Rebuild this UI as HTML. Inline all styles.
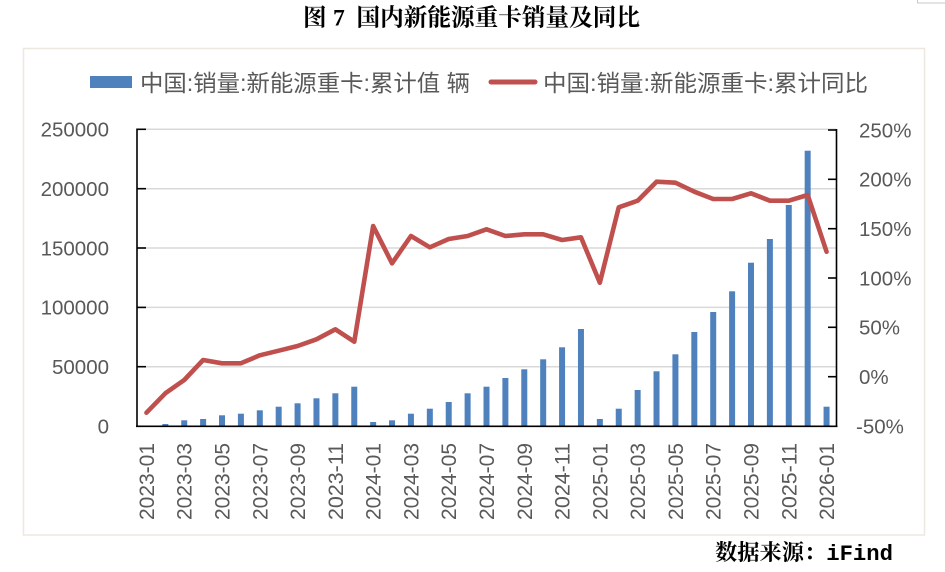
<!DOCTYPE html>
<html><head><meta charset="utf-8"><style>
html,body{margin:0;padding:0;background:#fff;}
svg{display:block;}
</style></head><body>
<svg width="945" height="572" viewBox="0 0 945 572" xmlns="http://www.w3.org/2000/svg">
<rect x="0" y="0" width="945" height="572" fill="#fff"/>
<rect x="917.5" y="-2" width="40" height="5" fill="none" stroke="#c8c8c8" stroke-width="1"/>
<g font-family="'Liberation Serif','Noto Serif CJK SC',serif" font-weight="bold" font-size="23.6" fill="#000">
<text x="303" y="25.5">图</text>
<text x="333" y="25.5">7</text>
<text x="356.5" y="25.5" textLength="283.5" lengthAdjust="spacingAndGlyphs">国内新能源重卡销量及同比</text>
</g>
<rect x="23.5" y="48.5" width="901" height="486.5" fill="none" stroke="#ECE8DF" stroke-width="1.5"/>
<!-- legend -->
<rect x="90" y="76" width="42" height="12" fill="#4F81BD"/>
<text x="140" y="91" textLength="330" lengthAdjust="spacingAndGlyphs" font-family="'Liberation Sans','Noto Sans CJK SC',sans-serif" font-size="23" fill="#595959">中国:销量:新能源重卡:累计值 辆</text>
<line x1="491" y1="82" x2="535" y2="82" stroke="#C0504D" stroke-width="5" stroke-linecap="round"/>
<text x="543" y="91" textLength="325" lengthAdjust="spacingAndGlyphs" font-family="'Liberation Sans','Noto Sans CJK SC',sans-serif" font-size="23" fill="#595959">中国:销量:新能源重卡:累计同比</text>
<!-- gridlines -->
<g stroke="#D9D9D9" stroke-width="1.5">
<line x1="137" y1="129.3" x2="836" y2="129.3"/>
<line x1="137" y1="188.7" x2="836" y2="188.7"/>
<line x1="137" y1="248" x2="836" y2="248"/>
<line x1="137" y1="307.4" x2="836" y2="307.4"/>
<line x1="137" y1="366.7" x2="836" y2="366.7"/>
</g>
<!-- left labels -->
<g font-family="'Liberation Sans',sans-serif" font-size="20.5" fill="#595959" text-anchor="end">
<text x="109" y="136.6">250000</text>
<text x="109" y="196">200000</text>
<text x="109" y="255.3">150000</text>
<text x="109" y="314.7">100000</text>
<text x="109" y="374">50000</text>
<text x="109" y="433.3">0</text>
</g>
<!-- right labels -->
<g font-family="'Liberation Sans',sans-serif" font-size="20.5" fill="#595959">
<text x="859" y="137.3">250%</text>
<text x="859" y="186.6">200%</text>
<text x="859" y="236">150%</text>
<text x="859" y="285.3">100%</text>
<text x="859" y="334.6">50%</text>
<text x="859" y="384">0%</text>
<text x="856" y="433.3">-50%</text>
</g>
<!-- bars -->
<g fill="#4F81BD">
<rect x="162.34" y="424" width="6" height="2"/>
<rect x="181.23" y="420.3" width="6" height="5.7"/>
<rect x="200.12" y="419" width="6" height="7"/>
<rect x="219.01" y="415.3" width="6" height="10.7"/>
<rect x="237.91" y="413.7" width="6" height="12.3"/>
<rect x="256.8" y="410.3" width="6" height="15.7"/>
<rect x="275.69" y="406.7" width="6" height="19.3"/>
<rect x="294.58" y="403.3" width="6" height="22.7"/>
<rect x="313.47" y="398.3" width="6" height="27.7"/>
<rect x="332.37" y="393.3" width="6" height="32.7"/>
<rect x="351.26" y="386.7" width="6" height="39.3"/>
<rect x="370.15" y="422" width="6" height="4"/>
<rect x="389.04" y="420.3" width="6" height="5.7"/>
<rect x="407.93" y="413.7" width="6" height="12.3"/>
<rect x="426.83" y="408.7" width="6" height="17.3"/>
<rect x="445.72" y="402" width="6" height="24"/>
<rect x="464.61" y="393.3" width="6" height="32.7"/>
<rect x="483.5" y="386.7" width="6" height="39.3"/>
<rect x="502.39" y="378" width="6" height="48"/>
<rect x="521.29" y="369.3" width="6" height="56.7"/>
<rect x="540.18" y="359.3" width="6" height="66.7"/>
<rect x="559.07" y="347.3" width="6" height="78.7"/>
<rect x="577.96" y="329" width="6" height="97"/>
<rect x="596.85" y="419" width="6" height="7"/>
<rect x="615.75" y="408.7" width="6" height="17.3"/>
<rect x="634.64" y="390" width="6" height="36"/>
<rect x="653.53" y="371.3" width="6" height="54.7"/>
<rect x="672.42" y="354.3" width="6" height="71.7"/>
<rect x="691.31" y="332" width="6" height="94"/>
<rect x="710.21" y="312" width="6" height="114"/>
<rect x="729.1" y="291.3" width="6" height="134.7"/>
<rect x="747.99" y="262.7" width="6" height="163.3"/>
<rect x="766.88" y="239" width="6" height="187"/>
<rect x="785.77" y="205" width="6" height="221"/>
<rect x="804.67" y="150.7" width="6" height="275.3"/>
<rect x="823.56" y="406.7" width="6" height="19.3"/>
</g>
<!-- axes -->
<g stroke="#000" stroke-width="1.6" fill="none">
<line x1="137" y1="128.5" x2="137" y2="427"/>
<line x1="836.5" y1="129" x2="836.5" y2="427"/>
<line x1="136" y1="426.3" x2="837.5" y2="426.3"/>
<line x1="137" y1="129.3" x2="146" y2="129.3"/>
<line x1="137" y1="188.7" x2="146" y2="188.7"/>
<line x1="137" y1="248" x2="146" y2="248"/>
<line x1="137" y1="307.4" x2="146" y2="307.4"/>
<line x1="137" y1="366.7" x2="146" y2="366.7"/>
<line x1="828" y1="130" x2="836.5" y2="130"/>
<line x1="828" y1="179.3" x2="836.5" y2="179.3"/>
<line x1="828" y1="228.7" x2="836.5" y2="228.7"/>
<line x1="828" y1="278" x2="836.5" y2="278"/>
<line x1="828" y1="327.3" x2="836.5" y2="327.3"/>
<line x1="828" y1="376.7" x2="836.5" y2="376.7"/>
</g>
<!-- line -->
<polyline fill="none" stroke="#C0504D" stroke-width="4.6" stroke-linejoin="round" stroke-linecap="round" points="146.45,412.7 165.34,393.3 184.23,380 203.12,360 222.01,363.3 240.91,363.3 259.8,355.3 278.69,350.7 297.58,346 316.47,339.3 335.37,329.3 354.26,341.7 373.15,226 392.04,263.3 410.93,236 429.83,247.3 448.72,239 467.61,236 486.5,229.3 505.39,236 524.29,234.3 543.18,234.3 562.07,240 580.96,237.3 599.85,282.7 618.75,207.3 637.64,200.7 656.53,181.7 675.42,182.7 694.31,191.7 713.21,199 732.1,199 750.99,193.3 769.88,200.7 788.77,200.7 807.67,195 826.56,251.7"/>
<!-- x labels -->
<g font-family="'Liberation Sans',sans-serif" font-size="21" fill="#595959" text-anchor="end">
<text transform="translate(153.9,443) rotate(-90)" textLength="77" lengthAdjust="spacingAndGlyphs">2023-01</text>
<text transform="translate(191.7,443) rotate(-90)" textLength="77" lengthAdjust="spacingAndGlyphs">2023-03</text>
<text transform="translate(229.5,443) rotate(-90)" textLength="77" lengthAdjust="spacingAndGlyphs">2023-05</text>
<text transform="translate(267.3,443) rotate(-90)" textLength="77" lengthAdjust="spacingAndGlyphs">2023-07</text>
<text transform="translate(305.1,443) rotate(-90)" textLength="77" lengthAdjust="spacingAndGlyphs">2023-09</text>
<text transform="translate(342.9,443) rotate(-90)" textLength="77" lengthAdjust="spacingAndGlyphs">2023-11</text>
<text transform="translate(380.7,443) rotate(-90)" textLength="77" lengthAdjust="spacingAndGlyphs">2024-01</text>
<text transform="translate(418.4,443) rotate(-90)" textLength="77" lengthAdjust="spacingAndGlyphs">2024-03</text>
<text transform="translate(456.2,443) rotate(-90)" textLength="77" lengthAdjust="spacingAndGlyphs">2024-05</text>
<text transform="translate(494,443) rotate(-90)" textLength="77" lengthAdjust="spacingAndGlyphs">2024-07</text>
<text transform="translate(531.8,443) rotate(-90)" textLength="77" lengthAdjust="spacingAndGlyphs">2024-09</text>
<text transform="translate(569.6,443) rotate(-90)" textLength="77" lengthAdjust="spacingAndGlyphs">2024-11</text>
<text transform="translate(607.4,443) rotate(-90)" textLength="77" lengthAdjust="spacingAndGlyphs">2025-01</text>
<text transform="translate(645.1,443) rotate(-90)" textLength="77" lengthAdjust="spacingAndGlyphs">2025-03</text>
<text transform="translate(682.9,443) rotate(-90)" textLength="77" lengthAdjust="spacingAndGlyphs">2025-05</text>
<text transform="translate(720.7,443) rotate(-90)" textLength="77" lengthAdjust="spacingAndGlyphs">2025-07</text>
<text transform="translate(758.5,443) rotate(-90)" textLength="77" lengthAdjust="spacingAndGlyphs">2025-09</text>
<text transform="translate(796.3,443) rotate(-90)" textLength="77" lengthAdjust="spacingAndGlyphs">2025-11</text>
<text transform="translate(834.1,443) rotate(-90)" textLength="77" lengthAdjust="spacingAndGlyphs">2026-01</text>
</g>
<!-- source -->
<text x="715" y="560" textLength="178" lengthAdjust="spacingAndGlyphs" font-family="'Liberation Serif','Noto Serif CJK SC',serif" font-weight="bold" font-size="22" fill="#000">数据来源：<tspan font-family="'Liberation Mono',monospace">iFind</tspan></text>
</svg>
</body></html>
